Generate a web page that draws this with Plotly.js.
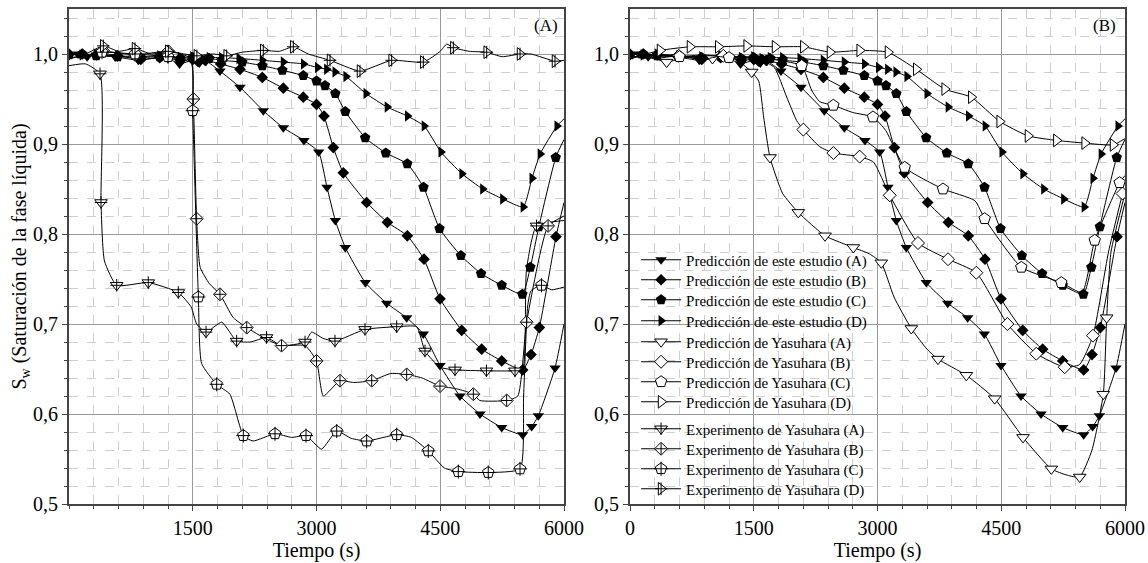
<!DOCTYPE html>
<html><head><meta charset="utf-8">
<script src="https://cdn.plot.ly/plotly-3.0.1.min.js"></script>
<style>html,body{margin:0;padding:0;background:#fff}</style>
</head><body>
<div id="chart" style="width:1148px;height:563px"></div>
<script>
// ---------------- DATA ----------------
// Predicción de este estudio (same curves in both panels)
const predA_t = [0,110,220,330,560,840,1090,1200,1340,1500,1580,1660,1830,2073,2355,2598,2848,3026,3127,3228,3349,3592,3851,4093,4295,4497,4739,4982,5245,5499,5608,5689,5891,6000];
const predA_y = [0.998,1.0,0.997,0.999,0.997,0.993,0.996,0.995,0.989,0.993,0.990,0.992,0.981,0.963,0.937,0.918,0.904,0.891,0.852,0.815,0.785,0.746,0.723,0.707,0.689,0.654,0.620,0.600,0.585,0.577,0.586,0.598,0.651,0.700];
const predB_t = [0,160,330,590,870,1100,1350,1500,1560,1650,1838,2073,2343,2598,2840,3000,3091,3204,3325,3608,3859,4101,4303,4497,4760,5002,5245,5499,5600,5701,5903,6000];
const predB_y = [1.0,1.0,0.999,0.998,0.994,0.996,0.993,0.994,0.992,0.993,0.989,0.983,0.974,0.962,0.952,0.944,0.931,0.896,0.868,0.835,0.813,0.798,0.772,0.728,0.693,0.672,0.659,0.649,0.666,0.696,0.797,0.835];
const predC_t = [0,160,330,590,870,1100,1350,1500,1600,1700,1850,2100,2343,2586,2840,3000,3103,3228,3349,3590,3840,4100,4297,4491,4750,4995,5245,5495,5592,5695,5900,6000];
const predC_y = [0.999,1.0,0.998,0.997,0.996,0.997,0.995,0.996,0.994,0.995,0.993,0.991,0.987,0.982,0.976,0.970,0.965,0.956,0.936,0.907,0.890,0.878,0.852,0.806,0.776,0.756,0.743,0.733,0.763,0.808,0.885,0.905];
const predD_t = [0,160,330,590,870,1100,1350,1500,1600,1700,1850,2061,2343,2598,2842,3013,3123,3224,3357,3600,3857,4103,4305,4509,4762,5014,5257,5505,5612,5711,5915,6000];
const predD_y = [1.0,0.999,1.0,0.998,0.997,0.998,0.996,0.997,0.995,0.996,0.996,0.995,0.993,0.991,0.989,0.985,0.983,0.980,0.975,0.956,0.941,0.931,0.920,0.891,0.867,0.850,0.839,0.830,0.862,0.889,0.920,0.928];

// Predicción de Yasuhara (panel B)
const yasA_t = [0,200,444,700,1000,1250,1475,1560,1620,1697,1850,2040,2364,2707,2900,3046,3200,3410,3600,3733,4077,4420,4764,5107,5300,5451,5600,5737,5778,5830,6000];
const yasA_y = [0.995,0.998,0.991,0.997,0.995,0.996,0.980,0.970,0.930,0.885,0.845,0.824,0.798,0.785,0.778,0.768,0.730,0.695,0.672,0.661,0.643,0.617,0.574,0.539,0.532,0.530,0.560,0.622,0.707,0.780,0.845];
const yasA_marks = [2,4,6,9,11,12,13,15,17,19,20,21,22,23,25,27,28];
const yasB_t = [0,300,590,870,1131,1400,1600,1750,1900,2020,2101,2300,2465,2784,2950,3148,3491,3855,4198,4574,4925,5269,5450,5612,5800,5970];
const yasB_y = [0.998,0.995,0.998,0.994,0.998,0.996,0.993,0.985,0.952,0.926,0.916,0.897,0.890,0.886,0.880,0.843,0.790,0.772,0.757,0.700,0.667,0.652,0.655,0.687,0.780,0.845];
const yasB_marks = [2,4,10,12,13,15,16,17,18,19,20,21,23,25];
const yasC_t = [0,300,600,900,1200,1500,1800,2081,2200,2300,2465,2700,2945,3100,3330,3794,4180,4299,4743,5228,5480,5633,5935,6000];
const yasC_y = [1.0,0.998,0.997,0.999,0.996,0.997,0.993,0.987,0.960,0.947,0.943,0.935,0.930,0.915,0.874,0.850,0.837,0.817,0.763,0.746,0.735,0.793,0.857,0.865];
const yasC_marks = [2,4,7,10,12,14,15,17,18,19,21,22];
const yasD_t = [0,364,727,1070,1414,1758,2101,2424,2784,3127,3470,3814,4137,4481,4824,5168,5511,5855,6000];
const yasD_y = [0.995,1.004,1.008,1.008,1.009,1.008,1.008,1.002,1.004,1.002,0.983,0.961,0.952,0.925,0.909,0.904,0.901,0.899,0.906];
const yasD_marks = [1,2,3,4,5,6,7,8,9,10,11,12,13,14,15,16,17];

// Experimento de Yasuhara (panel A)
const expA_t = [0,200,376,388,430,578,961,1325,1480,1547,1661,1851,2032,2200,2394,2576,2861,2941,3080,3224,3588,3972,4214,4315,4497,4679,5060,5406,5500,5545,5667,6000];
const expA_y = [0.987,0.989,0.978,0.835,0.770,0.743,0.746,0.735,0.719,0.700,0.691,0.702,0.681,0.680,0.685,0.676,0.680,0.691,0.684,0.681,0.694,0.697,0.697,0.670,0.652,0.649,0.648,0.648,0.650,0.760,0.809,0.815];
const expA_marks = [2,3,5,6,7,10,12,14,16,19,20,21,23,25,26,27,30];
const expB_t = [0,200,420,800,1204,1480,1507,1547,1590,1700,1830,1992,2154,2394,2576,2861,3000,3083,3285,3450,3669,3900,4093,4280,4497,4700,4901,4980,5305,5440,5547,5807,6000];
const expB_y = [1.0,0.998,1.003,0.999,1.003,0.995,0.950,0.817,0.763,0.745,0.733,0.707,0.696,0.683,0.676,0.676,0.659,0.620,0.637,0.635,0.637,0.645,0.644,0.640,0.631,0.628,0.622,0.615,0.615,0.620,0.702,0.809,0.820];
const expB_marks = [2,3,4,6,7,10,12,14,16,18,20,22,24,26,28,30,31];
const expC_t = [0,200,400,800,1200,1480,1499,1568,1608,1790,1950,2113,2230,2497,2700,2873,3060,3245,3420,3608,3972,4150,4355,4550,4719,5082,5467,5510,5560,5600,5727,5850,6000];
const expC_y = [0.995,0.998,1.002,1.0,0.997,0.990,0.937,0.730,0.656,0.633,0.622,0.576,0.570,0.578,0.574,0.576,0.561,0.581,0.573,0.570,0.577,0.574,0.559,0.540,0.536,0.535,0.539,0.620,0.720,0.737,0.743,0.738,0.741];
const expC_marks = [2,3,4,6,7,9,11,13,15,17,19,20,22,24,25,26,30];
const expD_t = [0,200,416,600,800,1000,1204,1400,1550,1750,1911,2100,2355,2550,2719,2900,3164,3527,3911,4295,4500,4578,4659,4850,5063,5250,5467,5600,5891,6000];
const expD_y = [0.995,1.0,1.009,1.003,1.006,1.0,1.003,1.0,0.998,1.0,0.998,1.002,1.004,1.003,1.008,1.0,0.993,0.981,0.993,0.991,1.003,1.011,1.007,1.003,1.002,0.997,1.0,1.0,0.992,0.993];
const expD_marks = [2,4,6,8,10,12,14,16,17,18,19,22,24,26,28];

// Text
const yTitle = 'S<sub>w</sub> (Saturación de la fase líquida)';
const xTitle = 'Tiempo (s)';
const nameStudy = ['Predicción de este estudio (A)','Predicción de este estudio (B)','Predicción de este estudio (C)','Predicción de este estudio (D)'];
const nameYas = ['Predicción de Yasuhara (A)','Predicción de Yasuhara (B)','Predicción de Yasuhara (C)','Predicción de Yasuhara (D)'];
const nameExp = ['Experimento de Yasuhara (A)','Experimento de Yasuhara (B)','Experimento de Yasuhara (C)','Experimento de Yasuhara (D)'];
const xTicksA = [1500,3000,4500,6000];
const xTicksB = [0,1500,3000,4500,6000];

// ---------------- BUILD ----------------
const FONT = 'Liberation Serif';
const SYM = ['triangle-down','diamond','pentagon','triangle-right'];
const SIZE = [10,9,11,10];
// legend row centres (px from top of the figure) and layout helpers
const ROW_PX = [260,280,300,321,342,362,382,402,429,449,469,489];
const PLOT_TOP = 9, PLOT_H = 495;
const legId = i => i===0 ? 'legend' : 'legend'+(i+1);

function allMarks(t){ const r=[]; t.forEach((v,i)=>{ if(v<6000) r.push(i); }); return r; }

function curve(t,y,ax){
  return {x:t,y:y,xaxis:'x'+ax,yaxis:'y'+ax,mode:'lines',type:'scatter',
    line:{color:'#000',width:1,shape:'spline',smoothing:0.5},
    showlegend:false,hoverinfo:'skip'};
}
function marks(t,y,idx,ax,k,filled,name,leg){
  const xs=[],ys=[];
  idx.forEach((i,j)=>{ if(j>0){xs.push(null);ys.push(null);} xs.push(t[i]); ys.push(y[i]); });
  const tr = {x:xs,y:ys,xaxis:'x'+ax,yaxis:'y'+ax,mode:'lines+markers',type:'scatter',connectgaps:false,
    line:{color:'#000',width:1},
    marker:{symbol:SYM[k],size:SIZE[k]+(filled?0:1),color:filled?'#000':'#fff',
      line:{color:'#000',width:filled?0:1}},
    name:name,showlegend:leg!==null,hoverinfo:'skip'};
  if(leg!==null) tr.legend = legId(leg);
  return tr;
}
function cross(t,y,idx,ax,k,leg){
  const xs=idx.map(i=>t[i]), ys=idx.map(i=>y[i]);
  return {x:xs,y:ys,xaxis:'x'+ax,yaxis:'y'+ax,mode:'markers',type:'scatter',
    marker:{symbol:'cross-thin-open',size:SIZE[k]-1,color:'#000',line:{color:'#000',width:1}},
    name:' ',showlegend:true,legend:legId(leg),hoverinfo:'skip'};
}

const study = [[predA_t,predA_y],[predB_t,predB_y],[predC_t,predC_y],[predD_t,predD_y]];
const yas = [[yasA_t,yasA_y,yasA_marks],[yasB_t,yasB_y,yasB_marks],[yasC_t,yasC_y,yasC_marks],[yasD_t,yasD_y,yasD_marks]];
const exps = [[expA_t,expA_y,expA_marks],[expB_t,expB_y,expB_marks],[expC_t,expC_y,expC_marks],[expD_t,expD_y,expD_marks]];

const traces=[];
study.forEach((s,k)=>{ traces.push(curve(s[0],s[1],'')); traces.push(marks(s[0],s[1],allMarks(s[0]),'',k,true,nameStudy[k],k)); });
exps.forEach((s,k)=>{ traces.push(curve(s[0],s[1],'')); traces.push(marks(s[0],s[1],s[2],'',k,false,nameExp[k],8+k)); traces.push(cross(s[0],s[1],s[2],'',k,12+k)); });
study.forEach((s,k)=>{ traces.push(curve(s[0],s[1],'2')); traces.push(marks(s[0],s[1],allMarks(s[0]),'2',k,true,nameStudy[k],null)); });
yas.forEach((s,k)=>{ traces.push(curve(s[0],s[1],'2')); traces.push(marks(s[0],s[1],s[2],'2',k,false,nameYas[k],4+k)); });
traces.forEach(tr=>{ if(tr.xaxis==='x'){tr.yaxis='y';} });

function xax(domain, tickvals, anchor){
  return {domain:domain,range:[0,6000],anchor:anchor,tickmode:'array',tickvals:tickvals,ticktext:tickvals.map(String),
    showline:true,mirror:true,linecolor:'#444',linewidth:2,ticks:'outside',ticklen:5,tickcolor:'#444',
    showgrid:true,gridcolor:'#9a9a9a',gridwidth:1,zeroline:false,
    minor:{tickmode:'linear',tick0:0,dtick:300,ticks:'outside',ticklen:3,tickcolor:'#444',showgrid:true,gridcolor:'#cfcfcf',griddash:'dash',gridwidth:1},
    tickfont:{family:FONT,size:20,color:'#000'},
    title:{text:xTitle,font:{family:FONT,size:20,color:'#000'},standoff:0}};
}
function yax(anchor, withTitle){
  const o={range:[0.5,1.05],anchor:anchor,tickmode:'linear',tick0:0.5,dtick:0.1,tickformat:'.1f',
    showline:true,mirror:true,linecolor:'#444',linewidth:2,ticks:'outside',ticklen:5,tickcolor:'#444',
    showgrid:true,gridcolor:'#9a9a9a',gridwidth:1,zeroline:false,
    minor:{tickmode:'linear',tick0:0.5,dtick:0.02,ticks:'outside',ticklen:3,tickcolor:'#444',showgrid:true,gridcolor:'#cfcfcf',griddash:'dash',gridwidth:1},
    tickfont:{family:FONT,size:20,color:'#000'}};
  if(withTitle) o.title={text:yTitle,font:{family:FONT,size:20,color:'#000'},standoff:0};
  return o;
}

const layout = {
  width:1148,height:563,
  margin:{l:69,r:23,t:9,b:59,pad:0},
  paper_bgcolor:'#fff',plot_bgcolor:'#fff',
  separators:',.',
  font:{family:FONT,color:'#000'},
  xaxis:xax([0,0.46875],xTicksA,'y'),
  yaxis:yax('x',true),
  xaxis2:xax([0.53125,1],xTicksB,'y2'),
  yaxis2:yax('x2',false),
  showlegend:true,
  annotations:[
    {text:'(A)',xref:'x domain',yref:'y domain',x:0.992,y:0.99,xanchor:'right',yanchor:'top',showarrow:false,font:{family:FONT,size:17,color:'#000'}},
    {text:'(B)',xref:'x2 domain',yref:'y2 domain',x:0.986,y:0.99,xanchor:'right',yanchor:'top',showarrow:false,font:{family:FONT,size:17,color:'#000'}}
  ]
};
// one legend per row so rows sit at the reference spacing; legends 13-16 overlay the crosses on the experiment rows
for(let i=0;i<16;i++){
  const row = i<12 ? i : 8+(i-12);
  layout[legId(i)] = {x:0.537,y:1-(ROW_PX[row]-PLOT_TOP)/PLOT_H,xanchor:'left',yanchor:'middle',
    bgcolor:'rgba(0,0,0,0)',borderwidth:0,font:{family:FONT,size:15,color:'#000'},itemwidth:40};
}
Plotly.newPlot('chart',traces,layout,{staticPlot:true,displayModeBar:false});
</script>
</body></html>
